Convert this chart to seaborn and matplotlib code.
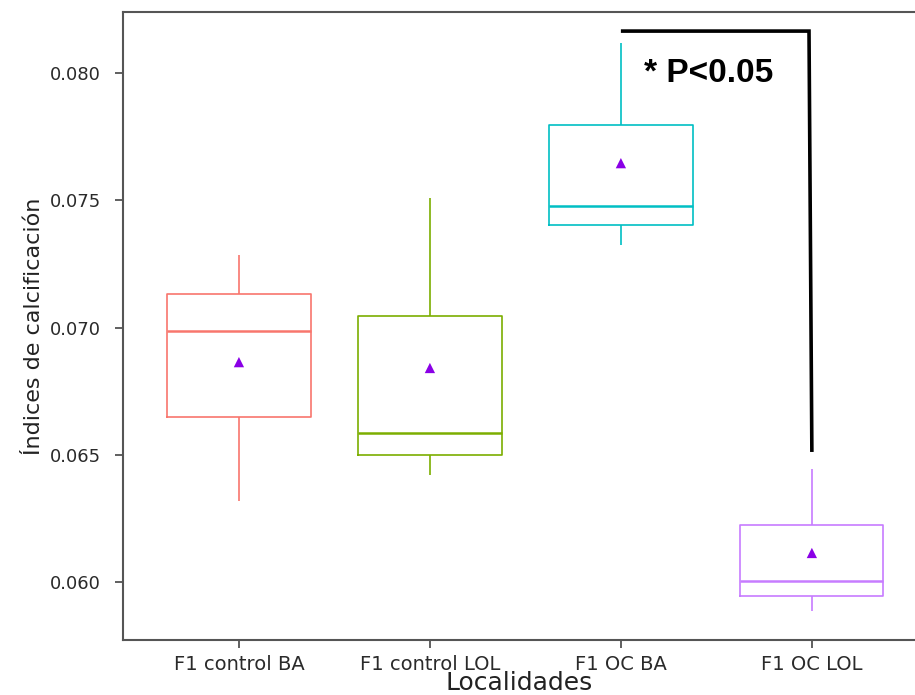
import numpy as np
import pandas as pd
import matplotlib
matplotlib.use("Agg")
import matplotlib.pyplot as plt
import seaborn as sns

grupos = ["F1 control BA", "F1 control LOL", "F1 OC BA", "F1 OC LOL"]
ctrl_ba = [0.06318, 0.06648, 0.06986, 0.07132, 0.07285]
ctrl_lol = [0.06420, 0.06499, 0.06585, 0.07045, 0.07509]
oc_ba = [0.07324, 0.07403, 0.07477, 0.07796, 0.08118]
oc_lol = [0.05886, 0.05945, 0.06004, 0.06224, 0.06444]
medias = [0.06864, 0.06841, 0.07646, 0.06114]
colores = ["#F8766D", "#7CAE00", "#00BFC4", "#C77CFF"]

yticks = [0.060, 0.065, 0.070, 0.075, 0.080]

df = pd.DataFrame({
    "Localidad": np.repeat(grupos, 5),
    "indice": ctrl_ba + ctrl_lol + oc_ba + oc_lol,
})
df_media = pd.DataFrame({"Localidad": grupos, "indice": medias})

sns.set_style("white")
plt.rcParams["font.family"] = ["DejaVu Sans"]

fig = plt.figure(figsize=(9.15, 6.95), dpi=100)
ax = fig.add_axes([123 / 915, 55 / 695, 1 - 123 / 915, 628 / 695])

sns.boxplot(data=df, x="Localidad", y="indice", hue="Localidad", palette=colores,
            order=grupos, hue_order=grupos, fill=False, dodge=False, width=0.75,
            whis=np.inf, showcaps=False, linewidth=1.2, legend=False,
            medianprops={"linewidth": 1.8}, ax=ax)
sns.scatterplot(data=df_media, x="Localidad", y="indice", marker="^", color="#8A00E6",
                s=55, edgecolor="none", zorder=5, ax=ax)

# significance bracket between F1 OC BA and F1 OC LOL
ax.plot([2, 2.985, 3.0], [0.08165, 0.08165, 0.06511], color="black", lw=2.6,
        solid_capstyle="butt", solid_joinstyle="miter", zorder=6)
ax.text(2.12, 0.0800, "* P<0.05", fontsize=24, fontweight="bold", ha="left",
        va="center", color="black", family="Liberation Sans")

ax.set_xlim(-0.607, 3.54)
ax.set_ylim(0.05772, 0.0824)
ax.set_yticks(yticks)
ax.set_yticklabels([f"{v:.3f}" for v in yticks])
ax.tick_params(axis="both", which="both", direction="out", length=6, width=1.2,
               color="#444444", labelsize=13, labelcolor="#2a2a2a",
               left=True, bottom=True)
ax.tick_params(axis="y", pad=10)
ax.tick_params(axis="x", labelsize=14, pad=5)
ax.set_xlabel("Localidades", fontsize=18, color="#222222", labelpad=-2)
ax.set_ylabel("Índices de calcificación", fontsize=16, color="#222222", labelpad=4)

for s in ["left", "bottom", "top"]:
    ax.spines[s].set_visible(True)
    ax.spines[s].set_color("#555555")
    ax.spines[s].set_linewidth(1.5)
ax.spines["right"].set_visible(False)

fig.savefig("out.png", dpi=100)
